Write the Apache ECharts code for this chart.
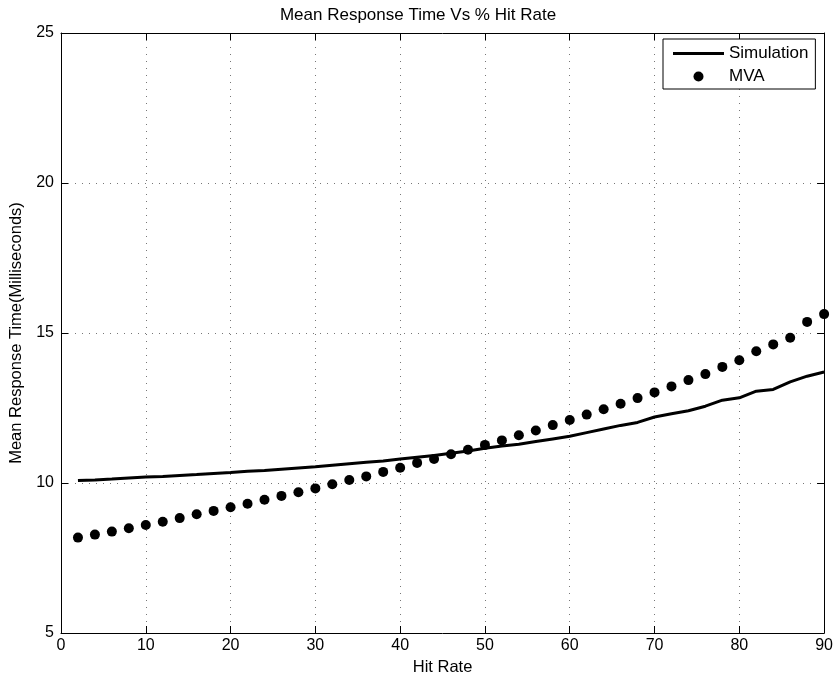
<!DOCTYPE html>
<html>
<head>
<meta charset="utf-8">
<script src="https://cdn.jsdelivr.net/npm/echarts@6/dist/echarts.min.js"></script>
<style>html,body{margin:0;padding:0;background:#fff;}#c{width:836px;height:683px;}</style>
</head>
<body>
<div id="c"></div>
<script>
const hitRate = [2,4,6,8,10,12,14,16,18,20,22,24,26,28,30,32,34,36,38,40,42,44,46,48,50,52,54,56,58,60,62,64,66,68,70,72,74,76,78,80,82,84,86,88,90];
const simulation = [10.08,10.10,10.13,10.17,10.20,10.22,10.25,10.28,10.32,10.35,10.39,10.42,10.46,10.50,10.54,10.59,10.64,10.69,10.73,10.80,10.86,10.92,10.99,11.07,11.16,11.23,11.29,11.38,11.47,11.56,11.68,11.80,11.92,12.02,12.20,12.31,12.41,12.56,12.76,12.84,13.06,13.12,13.37,13.56,13.70];
const mva = [8.18,8.28,8.38,8.49,8.60,8.71,8.83,8.96,9.07,9.19,9.31,9.44,9.57,9.69,9.82,9.96,10.10,10.22,10.37,10.51,10.67,10.80,10.96,11.11,11.27,11.42,11.59,11.75,11.93,12.10,12.28,12.46,12.64,12.83,13.02,13.22,13.43,13.63,13.87,14.09,14.39,14.62,14.84,15.37,15.63];
const xTicks = {min: 0, max: 90, interval: 10};
const yTicks = {min: 5, max: 25, interval: 5};

const FONT = '"Liberation Sans", Arial, sans-serif';
const chart = echarts.init(document.getElementById('c'), null, {renderer: 'canvas'});
const axisLine = {show: true, onZero: false, lineStyle: {color: '#000', width: 1}};
const tick = {show: true, inside: true, length: 7, lineStyle: {color: '#000', width: 1}};
const grid = {show: true, lineStyle: {color: '#777', width: 1, type: [1, 6]}};
chart.setOption({
  animation: false,
  backgroundColor: '#fff',
  title: {
    text: 'Mean Response Time Vs % Hit Rate',
    left: 'center', top: 2,
    textStyle: {fontFamily: FONT, fontSize: 17, fontWeight: 'normal', color: '#000'}
  },
  legend: {
    orient: 'vertical',
    left: 663, top: 39,
    backgroundColor: '#fff',
    borderColor: '#000', borderWidth: 1,
    padding: [6, 7, 4, 10],
    itemWidth: 51, itemHeight: 10, itemGap: 6,
    selectedMode: false,
    textStyle: {fontFamily: FONT, fontSize: 17, color: '#000'},
    data: [{name: 'Simulation', icon: 'path://M0 0H51V3H0Z'}, {name: 'MVA', icon: 'circle'}]
  },
  grid: {left: 61, right: 11, top: 33, bottom: 50, containLabel: false},
  xAxis: [{
    type: 'value', min: xTicks.min, max: xTicks.max, interval: xTicks.interval,
    position: 'bottom',
    name: 'Hit Rate', nameLocation: 'middle', nameGap: 26,
    nameTextStyle: {fontFamily: FONT, fontSize: 16.5, color: '#000'},
    axisLine: axisLine, axisTick: tick, splitLine: grid,
    axisLabel: {fontFamily: FONT, fontSize: 16, color: '#000', margin: 5}
  }, {
    type: 'value', min: xTicks.min, max: xTicks.max, interval: xTicks.interval,
    position: 'top',
    axisLine: axisLine, axisTick: tick, splitLine: {show: false}, axisLabel: {show: false}
  }],
  yAxis: [{
    type: 'value', min: yTicks.min, max: yTicks.max, interval: yTicks.interval,
    position: 'left',
    name: 'Mean Response Time(Milliseconds)', nameLocation: 'middle', nameGap: 32,
    nameTextStyle: {fontFamily: FONT, fontSize: 16.5, color: '#000'},
    axisLine: axisLine, axisTick: tick, splitLine: grid,
    axisLabel: {fontFamily: FONT, fontSize: 16, color: '#000', margin: 7}
  }, {
    type: 'value', min: yTicks.min, max: yTicks.max, interval: yTicks.interval,
    position: 'right',
    axisLine: axisLine, axisTick: tick, splitLine: {show: false}, axisLabel: {show: false}
  }],
  series: [{
    name: 'Simulation', type: 'line',
    xAxisIndex: 0, yAxisIndex: 0,
    data: hitRate.map((x, i) => [x, simulation[i]]),
    symbol: 'none', smooth: false,
    lineStyle: {color: '#000', width: 3},
    itemStyle: {color: '#000'}
  }, {
    name: 'MVA', type: 'scatter',
    xAxisIndex: 0, yAxisIndex: 0,
    data: hitRate.map((x, i) => [x, mva[i]]),
    symbol: 'circle', symbolSize: 10,
    itemStyle: {color: '#000', opacity: 1}
  }]
});
</script>
</body>
</html>
